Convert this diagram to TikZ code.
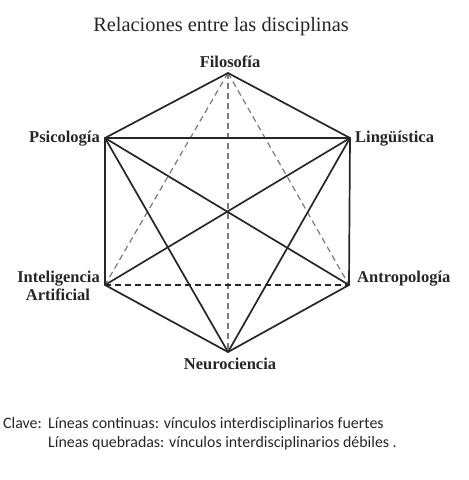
\documentclass[tikz,border=0pt]{standalone}
\usepackage{fontspec}
\setmainfont{Liberation Serif}
\newfontfamily\keyfont{Carlito}
\definecolor{ink}{HTML}{262626}
\definecolor{weak}{HTML}{7A7A7A}
\begin{document}
\begin{tikzpicture}[x=1pt,y=-1pt,
  strong/.style={draw=ink,line width=1.7pt,line cap=round},
  weakg/.style={draw=weak,line width=1.2pt,dash pattern=on 6pt off 4pt},
  weakk/.style={draw=ink,line width=1.3pt,dash pattern=on 6pt off 4pt},
  lab/.style={inner sep=0pt,font=\bfseries\fontsize{16.5}{19}\selectfont,text=ink},
  keytxt/.style={inner sep=0pt,font=\keyfont\fontsize{15.9}{18}\selectfont,text=ink,anchor=base west}]
\useasboundingbox (0,0) rectangle (469,480);
\fill[white] (0,0) rectangle (469,480);
% vertices
\coordinate (F) at (228,73);
\coordinate (P) at (105,138);
\coordinate (L) at (350,138);
\coordinate (IA) at (105,285);
\coordinate (A) at (349,285);
\coordinate (N) at (228,352);
% weak links
\draw[weakg] (F) -- (IA);
\draw[weakg] (F) -- (N);
\draw[weakg] (F) -- (A);
\draw[weakk] (IA) -- (A);
% strong links
\draw[strong] (F) -- (P);
\draw[strong] (F) -- (L);
\draw[strong] (P) -- (L);
\draw[strong] (P) -- (IA);
\draw[strong] (L) -- (A);
\draw[strong] (IA) -- (N);
\draw[strong] (A) -- (N);
\draw[strong] (P) -- (A);
\draw[strong] (P) -- (N);
\draw[strong] (L) -- (IA);
\draw[strong] (L) -- (N);
% title
\node[inner sep=0pt,anchor=base,font=\fontsize{20.4}{24}\selectfont,text=ink] (title) at (221,31) {Relaciones entre las disciplinas};
% labels
\node[lab,anchor=base] (lF) at (230,67) {Filosofía};
\node[lab,anchor=base east] (lP) at (100,142.5) {Psicología};
\node[lab,anchor=base west] (lL) at (355,142.5) {Lingüística};
\node[lab,anchor=base east] (lIA1) at (100,282) {Inteligencia};
\node[lab,anchor=base] (lIA2) at (58,300) {Artificial};
\node[lab,anchor=base west] (lA) at (357,282) {Antropología};
\node[lab,anchor=base] (lN) at (230,369) {Neurociencia};
% key
\node[keytxt] (k0) at (3,428) {Clave:};
\node[keytxt] (k1) at (48,428) {Líneas continuas: vínculos interdisciplinarios fuertes};
\node[keytxt] (k2) at (48,447) {Líneas quebradas: vínculos interdisciplinarios débiles .};
\end{tikzpicture}
\end{document}
